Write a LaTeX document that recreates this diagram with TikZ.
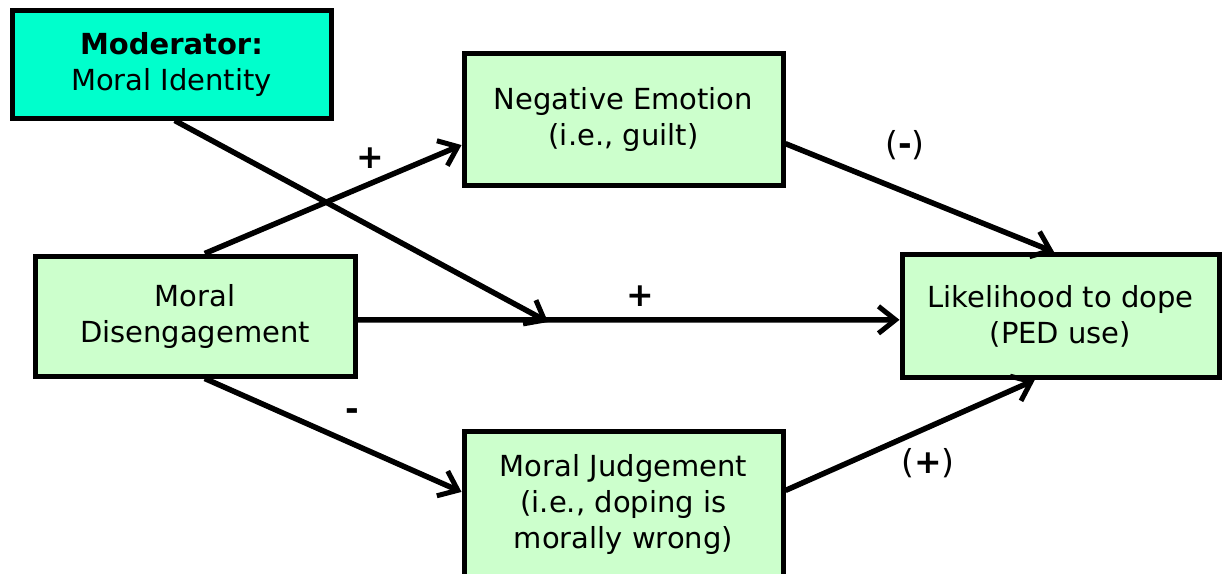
\documentclass[tikz,border=0pt]{standalone}
\usepackage{fontspec}
\setmainfont{DejaVu Sans}
\usetikzlibrary{arrows.meta,calc}
\definecolor{boxgreen}{HTML}{CCFFCC}
\definecolor{modcol}{HTML}{00FFCC}
\begin{document}
\begin{tikzpicture}[x=1pt,y=-1pt,
  box/.style={draw=black,line width=5pt,fill=boxgreen,align=center,inner sep=0pt,
    font=\fontsize{29}{36}\selectfont},
  conn/.style={line width=5.5pt,-{Straight Barb[length=17pt,width=27pt,line width=5pt]}},
  lab/.style={font=\fontsize{33}{36}\selectfont}]
\useasboundingbox (0,0) rectangle (1223,573);
\node[box,fill=modcol,minimum width=319pt,minimum height=108pt] (mod) at (171.5,64) {\textbf{Moderator:}\\Moral Identity};
\node[box,minimum width=319pt,minimum height=132pt] (ne) at (623.5,119) {Negative Emotion\\(i.e., guilt)};
\node[box,minimum width=320pt,minimum height=120pt] (md) at (195,316) {Moral\\Disengagement};
\node[box,minimum width=317pt,minimum height=123pt] (lk) at (1060.5,316) {Likelihood to dope\\(PED use)};
\node[box,minimum width=319pt,minimum height=146pt] (mj) at (623.5,504) {Moral Judgement\\(i.e., doping is\\morally wrong)};
\coordinate (modend) at (548,322);
% connectors
\draw[conn] ($(md.south west)!0.53!(md.south east)$) -- ($(mj.north west)!0.42!(mj.south west)$);
\draw[conn] ($(md.north east)!0.53!(md.south east)$) -- ($(lk.north west)!0.53!(lk.south west)$);
\draw[conn] ($(mod.south west)!0.51!(mod.south east)$) -- (modend);
\draw[conn] ($(md.north west)!0.53!(md.north east)$) -- ($(ne.north west)!0.69!(ne.south west)$);
\draw[conn] ($(ne.north east)!0.68!(ne.south east)$) -- ($(lk.north west)!0.48!(lk.north east)$);
\draw[conn] ($(mj.north east)!0.41!(mj.south east)$) -- ($(lk.south west)!0.42!(lk.south east)$);
% labels
\node[lab] (l1) at (370,158) {\textbf{+}};
\node[lab] (l2) at (640,296) {\textbf{+}};
\node[lab] (l3) at (352,415) {\textbf{-}};
\node[lab] (l4) at (905,145) {(\textbf{-})};
\node[lab] (l5) at (928,463) {(\textbf{+})};
\end{tikzpicture}
\end{document}
